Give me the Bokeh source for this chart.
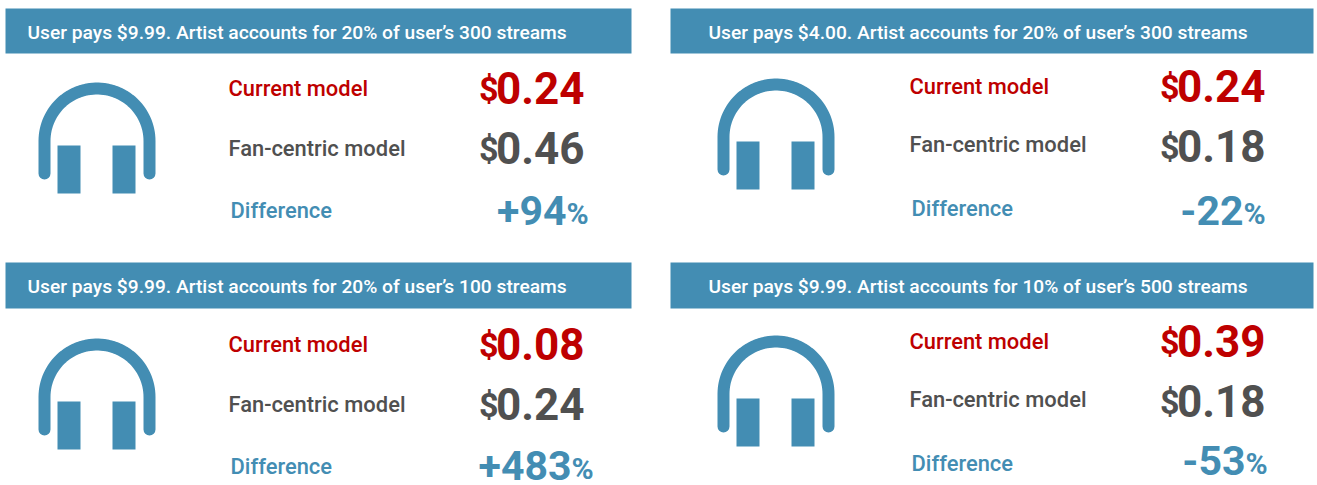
import numpy as np
from bokeh.plotting import figure
from bokeh.models import Range1d
from bokeh.core.properties import value
from bokeh.embed import file_html
from bokeh.resources import INLINE

titles = ["User pays $9.99. Artist accounts for 20% of user’s 300 streams",
          "User pays $4.00. Artist accounts for 20% of user’s 300 streams",
          "User pays $9.99. Artist accounts for 20% of user’s 100 streams",
          "User pays $9.99. Artist accounts for 10% of user’s 500 streams"]
current_model = ["0.24", "0.24", "0.08", "0.39"]
fan_centric = ["0.46", "0.18", "0.24", "0.18"]
difference = ["+94", "-22", "+483", "-53"]
row_labels = ["Current model", "Fan-centric model", "Difference"]

BLUE, RED, GREY = "#438DB3", "#BE0000", "#505050"
FONT = value("Roboto")
FONT_M = value("Roboto Medium")

hx0 = [5, 670, 5, 670]
hx1 = [631, 1313, 631, 1313]
hy0 = [8, 8, 262, 262]
hy1 = [53, 53, 308, 308]
tx = [27, 708, 27, 708]
ix = [38, 717, 38, 717]
iy = [82, 78, 338, 335]
lx = [228, 909, 228, 909]
vx = [584, 1265, 584, 1265]
ly = [88, 86, 344, 341]
pct_x = [566, 1243, 571, 1245]
diff_y = [210, 210, 465, 460]

p = figure(width=1317, height=485, output_backend="svg", toolbar_location=None,
           x_range=Range1d(0, 1317), y_range=Range1d(485, 0), min_border=0,
           background_fill_color="white", border_fill_color="white")
p.axis.visible = False
p.grid.visible = False
p.outline_line_color = None

for i in range(4):
    p.quad(left=[hx0[i]], right=[hx1[i]], top=[hy0[i]], bottom=[hy1[i]], fill_color=BLUE, line_color=None)
    p.text([tx[i]], [(hy0[i] + hy1[i]) / 2 + 1], text=[titles[i]], text_font=FONT_M, text_font_size="19.2px",
           text_color="white", text_baseline="middle", text_align="left")

    cx, r, ytop = ix[i] + 58.5, 52.5, iy[i] + 6
    t = np.linspace(np.pi, 2 * np.pi, 60)
    xs = np.concatenate([[cx - r], cx + r * np.cos(t), [cx + r]])
    ys = np.concatenate([[iy[i] + 91], ytop + r + r * np.sin(t), [iy[i] + 91]])
    p.line(xs, ys, line_color=BLUE, line_width=12, line_cap="round", line_join="round")
    for off in (19, 74):
        p.quad(left=[ix[i] + off], right=[ix[i] + off + 23], top=[iy[i] + 63], bottom=[iy[i] + 111],
               fill_color=BLUE, line_color=None)

    cols = [RED, GREY, BLUE]
    dys = [0, 60, 122]
    for j, lab in enumerate(row_labels):
        y = ly[i] + dys[j] - (2 if i % 2 and j == 1 else 0)
        p.text([lx[i] + (2 if j == 2 else 0)], [y], text=[lab], text_font=FONT_M, text_font_size="21.9px",
               text_color=cols[j], text_baseline="middle", text_align="left")
    for j, val in enumerate([current_model[i], fan_centric[i]]):
        y = ly[i] + dys[j] - 1
        p.text([vx[i]], [y], text=[val], text_font=FONT, text_font_size="44px", text_font_style="bold",
               text_color=cols[j], text_baseline="middle", text_align="right")
        p.text([vx[i] - 86], [y + 1], text=["$"], text_font=FONT, text_font_size="34px", text_font_style="bold",
               text_color=cols[j], text_baseline="middle", text_align="right")
    yd = diff_y[i]
    p.text([pct_x[i]], [yd], text=[difference[i]], text_font=FONT, text_font_size="41px", text_font_style="bold",
           text_color=BLUE, text_baseline="middle", text_align="right")
    p.text([pct_x[i]], [yd + 3], text=["%"], text_font=FONT, text_font_size="30px", text_font_style="bold",
           text_color=BLUE, text_baseline="middle", text_align="left")

open("out.html", "w").write(file_html(p, INLINE))
